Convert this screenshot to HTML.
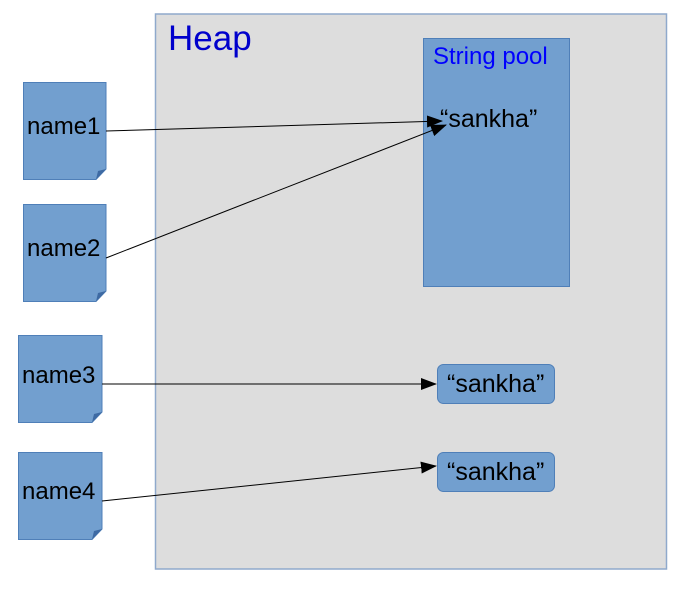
<!DOCTYPE html>
<html><head><meta charset="utf-8"><style>
html,body{margin:0;padding:0;background:#fff;}
svg{display:block;font-family:"Liberation Sans",sans-serif;}
</style></head><body>
<svg width="680" height="596" viewBox="0 0 680 596" xmlns="http://www.w3.org/2000/svg">
<defs>
<marker id="a" markerWidth="16" markerHeight="12" refX="15" refY="6" orient="auto" markerUnits="userSpaceOnUse">
<path d="M0,0 L16,6 L0,12 Z" fill="#000"/>
</marker>
</defs>
<rect x="155.5" y="14" width="511" height="555" fill="#dddddd" stroke="#8fa9cc" stroke-width="1.5"/>
<text x="168" y="50" font-size="35" fill="#0000cc">Heap</text>
<rect x="423.5" y="38.5" width="146" height="248" fill="#729fcf" stroke="#4f7fb8"/>
<text x="433" y="64" font-size="24" fill="#0000ff">String pool</text>
<text x="440" y="127" font-size="25" fill="#000">“sankha”</text>

<g fill="#729fcf" stroke="#4f7fb8">
<path d="M23.5,82.5 H106 V169 L96,179.5 H23.5 Z"/>
<path d="M23.5,204.5 H106 V291 L96,301.5 H23.5 Z"/>
<path d="M18.5,335.5 H102 V412 L92,422.5 H18.5 Z"/>
<path d="M18.5,452.5 H102 V529 L92,539.5 H18.5 Z"/>
</g>
<g fill="#3e6aa3">
<path d="M106,169 L96,179.5 L98,171 Z"/>
<path d="M106,291 L96,301.5 L98,293 Z"/>
<path d="M102,412 L92,422.5 L94,414 Z"/>
<path d="M102,529 L92,539.5 L94,531 Z"/>
</g>
<g font-size="24" fill="#000">
<text x="27" y="134">name1</text>
<text x="27" y="256">name2</text>
<text x="22" y="383">name3</text>
<text x="22" y="499">name4</text>
</g>
<rect x="437.5" y="364.5" width="117" height="39" rx="6" fill="#729fcf" stroke="#4f7fb8"/>
<rect x="437.5" y="452.5" width="117" height="39" rx="6" fill="#729fcf" stroke="#4f7fb8"/>
<text x="447" y="392" font-size="25" fill="#000">“sankha”</text>
<text x="447" y="480" font-size="25" fill="#000">“sankha”</text>

<g stroke="#000" stroke-width="1" fill="none" marker-end="url(#a)">
<line x1="106" y1="131" x2="442" y2="121"/>
<line x1="106" y1="258" x2="446" y2="125"/>
<line x1="102" y1="384" x2="436" y2="384"/>
<line x1="102" y1="501" x2="436" y2="466"/>
</g>
</svg>
</body></html>
